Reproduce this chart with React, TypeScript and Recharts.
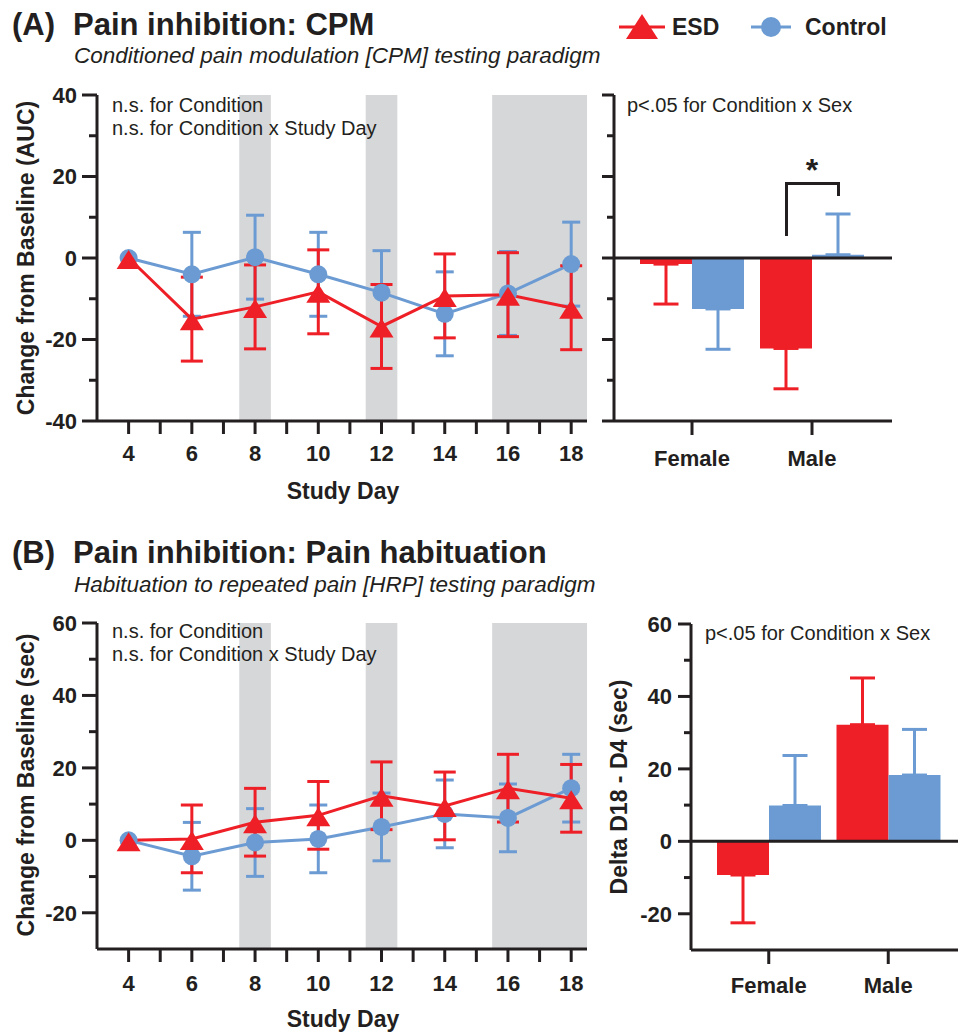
import React from 'react';
import {
  LineChart,
  Line,
  XAxis,
  YAxis,
  ErrorBar,
  ReferenceArea,
  ReferenceLine,
  BarChart,
  Bar,
} from 'recharts';

// ---------- data ----------
const days = [4, 6, 8, 10, 12, 14, 16, 18];
const cpmEsd = [0, -15, -12, -8.3, -16.8, -9.3, -9, -12.2];
const cpmEsdErr = [0, 10.3, 10.3, 10.3, 10.3, 10.3, 10.3, 10.3];
const cpmCtrl = [0, -4, 0.2, -4, -8.5, -13.7, -8.7, -1.5];
const cpmCtrlErr = [0, 10.3, 10.3, 10.3, 10.3, 10.3, 10.3, 10.3];

const hrpEsd = [0, 0.4, 5.0, 6.9, 12.3, 9.5, 14.4, 11.6];
const hrpEsdErr = [0, 9.35, 9.35, 9.35, 9.35, 9.35, 9.35, 9.35];
const hrpCtrl = [0, -4.4, -0.6, 0.4, 3.7, 7.3, 6.2, 14.4];
const hrpCtrlErr = [0, 9.35, 9.35, 9.35, 9.35, 9.35, 9.35, 9.35];

const sexes = ['Female', 'Male'];
const cpmBarEsd = [-1.5, -22.2];
const cpmBarEsdErr = [9.8, 9.9];
const cpmBarCtrl = [-12.5, 0.8];
const cpmBarCtrlErr = [9.9, 10];
const hrpBarEsd = [-9.3, 32.2];
const hrpBarEsdErr = [13.2, 12.9];
const hrpBarCtrl = [9.9, 18.3];
const hrpBarCtrlErr = [13.8, 12.6];

const dayTicks = [4, 5, 6, 7, 8, 9, 10, 11, 12, 13, 14, 15, 16, 17, 18];
const dayDomain = [3, 18.5];
const shadedDays = [
  [7.5, 8.5],
  [11.5, 12.5],
  [15.5, 18.5],
];
const cpmDomain = [-40, 40];
const cpmYTicks = [-40, -30, -20, -10, 0, 10, 20, 30, 40];
const cpmYLabels = [-40, -20, 0, 20, 40];
const hrpDomain = [-30, 60];
const hrpYTicks = [-20, -10, 0, 10, 20, 30, 40, 50, 60];
const hrpYLabels = [-20, 0, 20, 40, 60];

const seriesNames = ['ESD', 'Control'];

// ---------- styles ----------
const RED = '#ee1f26';
const BLUE = '#6b9bd2';
const INK = '#231f20';
const SHADE = '#d6d7d9';
const FONT = "'Liberation Sans', Arial, Helvetica, sans-serif";

const lineRows = (e: number[], ee: number[], c: number[], ce: number[]) =>
  days.map((d, i) => ({ day: d, esd: e[i], esdErr: ee[i], ctrl: c[i], ctrlErr: ce[i] }));

const oneSided = (v: number, err: number) => (v < 0 ? [err, 0] : [0, err]);
const barRows = (e: number[], ee: number[], c: number[], ce: number[]) =>
  sexes.map((s, i) => ({
    sex: s,
    esd: e[i],
    esdErr: oneSided(e[i], ee[i]),
    ctrl: c[i],
    ctrlErr: oneSided(c[i], ce[i]),
  }));

const cpmLine = lineRows(cpmEsd, cpmEsdErr, cpmCtrl, cpmCtrlErr);
const hrpLine = lineRows(hrpEsd, hrpEsdErr, hrpCtrl, hrpCtrlErr);
const cpmBars = barRows(cpmBarEsd, cpmBarEsdErr, cpmBarCtrl, cpmBarCtrlErr);
const hrpBars = barRows(hrpBarEsd, hrpBarEsdErr, hrpBarCtrl, hrpBarCtrlErr);

// ---------- shapes ----------
const TriangleDot = (props: any) => {
  const { cx, cy, index } = props;
  if (cx == null || cy == null) return <g key={`t${index}`} />;
  return (
    <polygon
      key={`t${index}`}
      points={`${cx},${cy - 8} ${cx - 12},${cy + 11} ${cx + 12},${cy + 11}`}
      fill={RED}
    />
  );
};
const CircleDot = (props: any) => {
  const { cx, cy, index } = props;
  if (cx == null || cy == null) return <g key={`c${index}`} />;
  return <circle key={`c${index}`} cx={cx} cy={cy} r={9} fill={BLUE} />;
};

const makeYTick =
  (labels: number[], showText: boolean, majorLen: number, minorLen: number, gap: number) =>
  (props: any) => {
    const { x, y, payload } = props;
    const v = payload.value;
    const isMajor = labels.includes(v);
    const axisX = x + majorLen + gap;
    const len = isMajor ? majorLen : minorLen;
    return (
      <g>
        <line x1={axisX - len} x2={axisX} y1={y} y2={y} stroke={INK} strokeWidth={3} />
        {showText && isMajor ? (
          <text
            x={x}
            y={y}
            dy="0.36em"
            textAnchor="end"
            fill={INK}
            fontSize={22}
            fontWeight="bold"
            fontFamily={FONT}
          >
            {v}
          </text>
        ) : null}
      </g>
    );
  };

const axisLineStyle = { stroke: INK, strokeWidth: 3 };
const tickTextStyle = { fontSize: 22, fontWeight: 'bold', fill: INK, fontFamily: FONT };

// ---------- charts ----------
function DayChart(props: {
  data: any[];
  domain: number[];
  yTicks: number[];
  yLabels: number[];
  xTickMargin: number;
}) {
  const { data, domain, yTicks, yLabels, xTickMargin } = props;
  return (
    <LineChart width={600} height={400} data={data} margin={{ top: 15, right: 13, left: 0, bottom: 19 }}>
      {shadedDays.map(([a, b]) => (
        <ReferenceArea key={`s${a}`} x1={a} x2={b} fill={SHADE} fillOpacity={1} stroke="none" />
      ))}
      <XAxis
        dataKey="day"
        type="number"
        domain={dayDomain}
        ticks={dayTicks}
        interval={0}
        tickFormatter={(v: number) => (v % 2 === 0 ? String(v) : '')}
        height={40}
        tickSize={13}
        tickMargin={xTickMargin}
        axisLine={axisLineStyle}
        tickLine={axisLineStyle}
        tick={tickTextStyle}
        allowDataOverflow
      />
      <YAxis
        type="number"
        domain={domain}
        ticks={yTicks}
        interval={0}
        width={97}
        tickSize={15}
        tickMargin={5}
        axisLine={axisLineStyle}
        tickLine={false}
        tick={makeYTick(yLabels, true, 15, 8, 5)}
        allowDataOverflow
      />
      <Line
        dataKey="ctrl"
        stroke={BLUE}
        strokeWidth={3}
        dot={CircleDot}
        activeDot={false}
        isAnimationActive={false}
      >
        <ErrorBar dataKey="ctrlErr" direction="y" width={9} stroke={BLUE} strokeWidth={3} isAnimationActive={false} />
      </Line>
      <Line
        dataKey="esd"
        stroke={RED}
        strokeWidth={3}
        dot={TriangleDot}
        activeDot={false}
        isAnimationActive={false}
      >
        <ErrorBar dataKey="esdErr" direction="y" width={11} stroke={RED} strokeWidth={3} isAnimationActive={false} />
      </Line>
    </LineChart>
  );
}

function SexChart(props: {
  data: any[];
  width: number;
  yWidth: number;
  rightMargin: number;
  padding: { left: number; right: number };
  domain: number[];
  yTicks: number[];
  yLabels: number[];
  showText: boolean;
  majorLen: number;
  minorLen: number;
  gap: number;
  xTickMargin: number;
}) {
  const p = props;
  return (
    <BarChart
      width={p.width}
      height={400}
      data={p.data}
      margin={{ top: 15, right: p.rightMargin, left: 0, bottom: 19 }}
      barCategoryGap={8}
      barGap={0}
    >
      <XAxis
        dataKey="sex"
        type="category"
        padding={p.padding}
        interval={0}
        height={40}
        tickSize={14}
        tickMargin={p.xTickMargin}
        axisLine={axisLineStyle}
        tickLine={axisLineStyle}
        tick={tickTextStyle}
      />
      <YAxis
        type="number"
        domain={p.domain}
        ticks={p.yTicks}
        interval={0}
        width={p.yWidth}
        tickSize={p.majorLen}
        tickMargin={p.gap}
        axisLine={axisLineStyle}
        tickLine={false}
        tick={makeYTick(p.yLabels, p.showText, p.majorLen, p.minorLen, p.gap)}
        allowDataOverflow
      />
      <Bar dataKey="esd" fill={RED} isAnimationActive={false}>
        <ErrorBar dataKey="esdErr" direction="y" width={12.5} stroke={RED} strokeWidth={3} isAnimationActive={false} />
      </Bar>
      <Bar dataKey="ctrl" fill={BLUE} isAnimationActive={false}>
        <ErrorBar dataKey="ctrlErr" direction="y" width={12.5} stroke={BLUE} strokeWidth={3} isAnimationActive={false} />
      </Bar>
      <ReferenceLine y={0} stroke={INK} strokeWidth={3} />
    </BarChart>
  );
}

const pos = (left: number, top: number): React.CSSProperties => ({ position: 'absolute', left, top });

export default function App() {
  return (
    <div
      style={{
        position: 'absolute',
        left: 0,
        top: 0,
        width: 958,
        height: 1034,
        overflow: 'hidden',
        background: '#fff',
        fontFamily: FONT,
      }}
    >
      <div style={pos(0, 80)}>
        <DayChart data={cpmLine} domain={cpmDomain} yTicks={cpmYTicks} yLabels={cpmYLabels} xTickMargin={11} />
      </div>
      <div style={pos(600, 80)}>
        <SexChart
          data={cpmBars}
          width={300}
          yWidth={14}
          rightMargin={8}
          padding={{ left: 18, right: 20 }}
          domain={cpmDomain}
          yTicks={cpmYTicks}
          yLabels={cpmYLabels}
          showText={false}
          majorLen={12}
          minorLen={7}
          gap={2}
          xTickMargin={15}
        />
      </div>
      <div style={pos(0, 608)}>
        <DayChart data={hrpLine} domain={hrpDomain} yTicks={hrpYTicks} yLabels={hrpYLabels} xTickMargin={13} />
      </div>
      <div style={pos(600, 609)}>
        <SexChart
          data={hrpBars}
          width={358}
          yWidth={91}
          rightMargin={0}
          padding={{ left: 18, right: 10 }}
          domain={hrpDomain}
          yTicks={hrpYTicks}
          yLabels={hrpYLabels}
          showText={true}
          majorLen={13}
          minorLen={7}
          gap={6}
          xTickMargin={13}
        />
      </div>

      <svg
        width={958}
        height={1034}
        style={{ position: 'absolute', left: 0, top: 0, pointerEvents: 'none' }}
        fontFamily={FONT}
        fill={INK}
      >
        {/* Panel A titles */}
        <text x={12} y={35} fontSize={31} fontWeight="bold">(A)</text>
        <text x={73} y={35} fontSize={31} fontWeight="bold">Pain inhibition: CPM</text>
        <text x={74} y={63} fontSize={22.5} fontStyle="italic">
          Conditioned pain modulation [CPM] testing paradigm
        </text>

        {/* Legend */}
        <line x1={619} x2={665} y1={27} y2={27} stroke={RED} strokeWidth={3} />
        <polygon points="642,14 626,39 658,39" fill={RED} />
        <text x={672} y={35} fontSize={23} fontWeight="bold">{seriesNames[0]}</text>
        <line x1={751} x2={791} y1={27} y2={27} stroke={BLUE} strokeWidth={3} />
        <circle cx={771} cy={27} r={10} fill={BLUE} />
        <text x={805} y={35} fontSize={23} fontWeight="bold">{seriesNames[1]}</text>

        {/* Panel A annotations */}
        <text x={112} y={112} fontSize={20}>n.s. for Condition</text>
        <text x={112} y={135} fontSize={20}>n.s. for Condition x Study Day</text>
        <text x={627} y={112} fontSize={20}>p&lt;.05 for Condition x Sex</text>
        <polyline
          points="786.5,236 786.5,183.5 838.5,183.5 838.5,196"
          fill="none"
          stroke={INK}
          strokeWidth={3}
        />
        <text x={812} y={181} fontSize={32} fontWeight="bold" textAnchor="middle">*</text>

        <text transform="translate(34,258) rotate(-90)" fontSize={23} fontWeight="bold" textAnchor="middle">
          Change from Baseline (AUC)
        </text>
        <text x={343} y={499} fontSize={23} fontWeight="bold" textAnchor="middle">Study Day</text>

        {/* Panel B titles */}
        <text x={12} y={563} fontSize={31} fontWeight="bold">(B)</text>
        <text x={73} y={563} fontSize={31} fontWeight="bold">Pain inhibition: Pain habituation</text>
        <text x={74} y={592} fontSize={22.5} fontStyle="italic">
          Habituation to repeated pain [HRP] testing paradigm
        </text>

        <text x={112} y={638} fontSize={20}>n.s. for Condition</text>
        <text x={112} y={661} fontSize={20}>n.s. for Condition x Study Day</text>
        <text x={705} y={640} fontSize={20}>p&lt;.05 for Condition x Sex</text>

        <text transform="translate(34,785) rotate(-90)" fontSize={23} fontWeight="bold" textAnchor="middle">
          Change from Baseline (sec)
        </text>
        <text transform="translate(627,787) rotate(-90)" fontSize={23} fontWeight="bold" textAnchor="middle">
          Delta D18 - D4 (sec)
        </text>
        <text x={343} y={1027} fontSize={23} fontWeight="bold" textAnchor="middle">Study Day</text>
      </svg>
    </div>
  );
}
